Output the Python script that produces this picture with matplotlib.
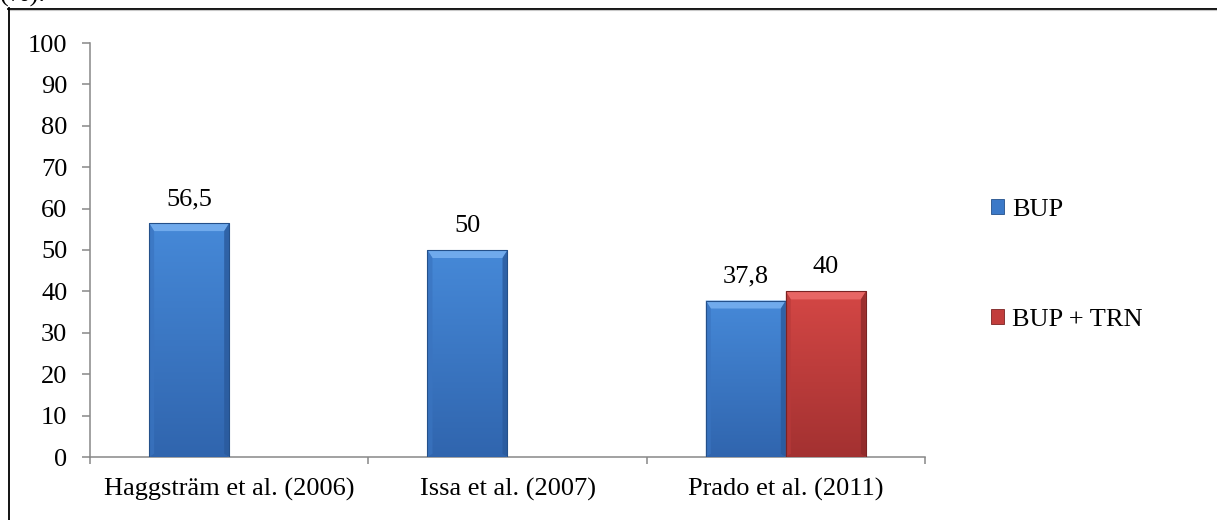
import numpy as np
import matplotlib
matplotlib.use("Agg")
import matplotlib.pyplot as plt
from matplotlib.patches import Patch, Polygon
from matplotlib.lines import Line2D
from matplotlib.colors import LinearSegmentedColormap

# Data
studies = ["Haggsträm et al. (2006)", "Issa et al. (2007)", "Prado et al. (2011)"]
bup = [56.5, 50, 37.8]
bup_trn = [np.nan, np.nan, 40]
series_names = ["BUP", "BUP + TRN"]
y_ticks = list(range(0, 101, 10))

plt.rcParams["font.family"] = ["Liberation Serif", "DejaVu Serif"]
FS = 19

W, H, DPI = 1217, 520, 100
fig = plt.figure(figsize=(W / DPI, H / DPI), dpi=DPI)
ax = fig.add_axes([90 / W, 1 - 457 / H, (925 - 90) / W, (457 - 43) / H])

styles = {
    "BUP": dict(top="#4689d8", bottom="#3065ae", bevel="#70aaec", side="#3a74c0",
                rside="#2a5a9c", edge="#24508a", base="#3b79c8"),
    "BUP + TRN": dict(top="#d44745", bottom="#a33131", bevel="#e86664", side="#b83a3a",
                      rside="#8e2a2a", edge="#7a2323", base="#c23d3c"),
}

x = np.arange(len(studies))
width = 0.2875


def draw_bevel_bar(container, st):
    cmap = LinearSegmentedColormap.from_list("g", [st["bottom"], st["top"]])
    (ax0, ay0), (ax1, ay1) = ax.transData.transform([(0, 0), (1, 1)])
    dx = 1.0 / (ax1 - ax0)
    dy = 1.0 / (ay1 - ay0)
    bx, byt, byb = 5 * dx, 8 * dy, 3 * dy
    for p in container.patches:
        x0, y0 = p.get_x(), p.get_y()
        w, h = p.get_width(), p.get_height()
        grad = np.linspace(0, 1, 256).reshape(-1, 1)
        im = ax.imshow(grad, cmap=cmap, origin="lower", aspect="auto",
                       extent=(x0, x0 + w, y0, y0 + h), zorder=2)
        im.set_clip_path(p)
        top = Polygon([(x0, y0 + h), (x0 + w, y0 + h), (x0 + w - bx, y0 + h - byt),
                       (x0 + bx, y0 + h - byt)], closed=True, facecolor=st["bevel"],
                      edgecolor="none", zorder=3)
        left = Polygon([(x0, y0), (x0, y0 + h), (x0 + bx, y0 + h - byt), (x0 + bx, y0 + byb)],
                       closed=True, facecolor=st["side"], edgecolor="none", alpha=0.7, zorder=3)
        right = Polygon([(x0 + w, y0), (x0 + w, y0 + h), (x0 + w - bx, y0 + h - byt),
                         (x0 + w - bx, y0 + byb)], closed=True, facecolor=st["rside"],
                        edgecolor="none", alpha=0.8, zorder=3)
        bot = Polygon([(x0, y0), (x0 + w, y0), (x0 + w - bx, y0 + byb), (x0 + bx, y0 + byb)],
                      closed=True, facecolor=st["bottom"], edgecolor="none", zorder=3)
        for poly in (top, left, right, bot):
            ax.add_patch(poly)
        ax.add_patch(plt.Rectangle((x0, y0), w, h, facecolor="none",
                                   edgecolor=st["edge"], linewidth=0.8, zorder=4))


ax.set_xlim(-0.5, len(studies) - 0.5)
ax.set_ylim(0, 100)
fig.canvas.draw()

handles = []
for offset, vals, name in [(-width / 2, bup, "BUP"), (width / 2, bup_trn, "BUP + TRN")]:
    vals = np.asarray(vals, dtype=float)
    mask = ~np.isnan(vals)
    st = styles[name]
    bars = ax.bar(x[mask] + offset, vals[mask], width=width, color=st["base"],
                  edgecolor="none", zorder=1.5)
    draw_bevel_bar(bars, st)
    for xi, v in zip(x[mask] + offset, vals[mask]):
        ax.annotate(f"{v:g}".replace(".", ","), (xi, v), xytext=(0, 13),
                    textcoords="offset points", ha="center", va="baseline",
                    fontsize=FS, color="black")
    handles.append(Patch(facecolor=st["base"], edgecolor=st["edge"], linewidth=0.6,
                         label=name))

# Axes styling
for side in ("top", "right"):
    ax.spines[side].set_visible(False)
for side in ("left", "bottom"):
    ax.spines[side].set_color("#888888")
    ax.spines[side].set_linewidth(1.1)

ax.set_yticks(y_ticks)
ax.set_yticklabels([str(t) for t in y_ticks], fontsize=FS)
ax.tick_params(axis="y", direction="out", length=5.8, width=1.1, color="#888888", pad=10.5)

ax.set_xticks(x)
ax.set_xticklabels(studies, fontsize=FS)
ax.tick_params(axis="x", which="major", length=0, pad=15)
ax.set_xticks(np.arange(-0.5, len(studies)), minor=True)
ax.tick_params(axis="x", which="minor", direction="out", length=5.2, width=1.1, color="#888888")

fig.legend(handles=handles, loc="center left", bbox_to_anchor=(991 / W, 1 - 265 / H),
           frameon=False, fontsize=FS, handlelength=0.5, handleheight=0.5,
           handletextpad=0.3, labelspacing=3.35, borderpad=0, borderaxespad=0)

# Outer frame (top and left edges) and caption fragment above it
fig.add_artist(Line2D([8 / W, 1.0], [1 - 8.5 / H, 1 - 8.5 / H], color="black", lw=1.3,
                      transform=fig.transFigure))
fig.add_artist(Line2D([8 / W, 1.0], [1 - 10 / H, 1 - 10 / H], color="#c8c8c8", lw=0.8,
                      transform=fig.transFigure))
fig.add_artist(Line2D([8.5 / W, 8.5 / W], [0, 1 - 8 / H], color="black", lw=1.3,
                      transform=fig.transFigure))
fig.text(0.0, 1 - 2 / H, "(%).", fontsize=FS, ha="left", va="baseline")

fig.savefig("out.png", dpi=DPI, facecolor="white")
